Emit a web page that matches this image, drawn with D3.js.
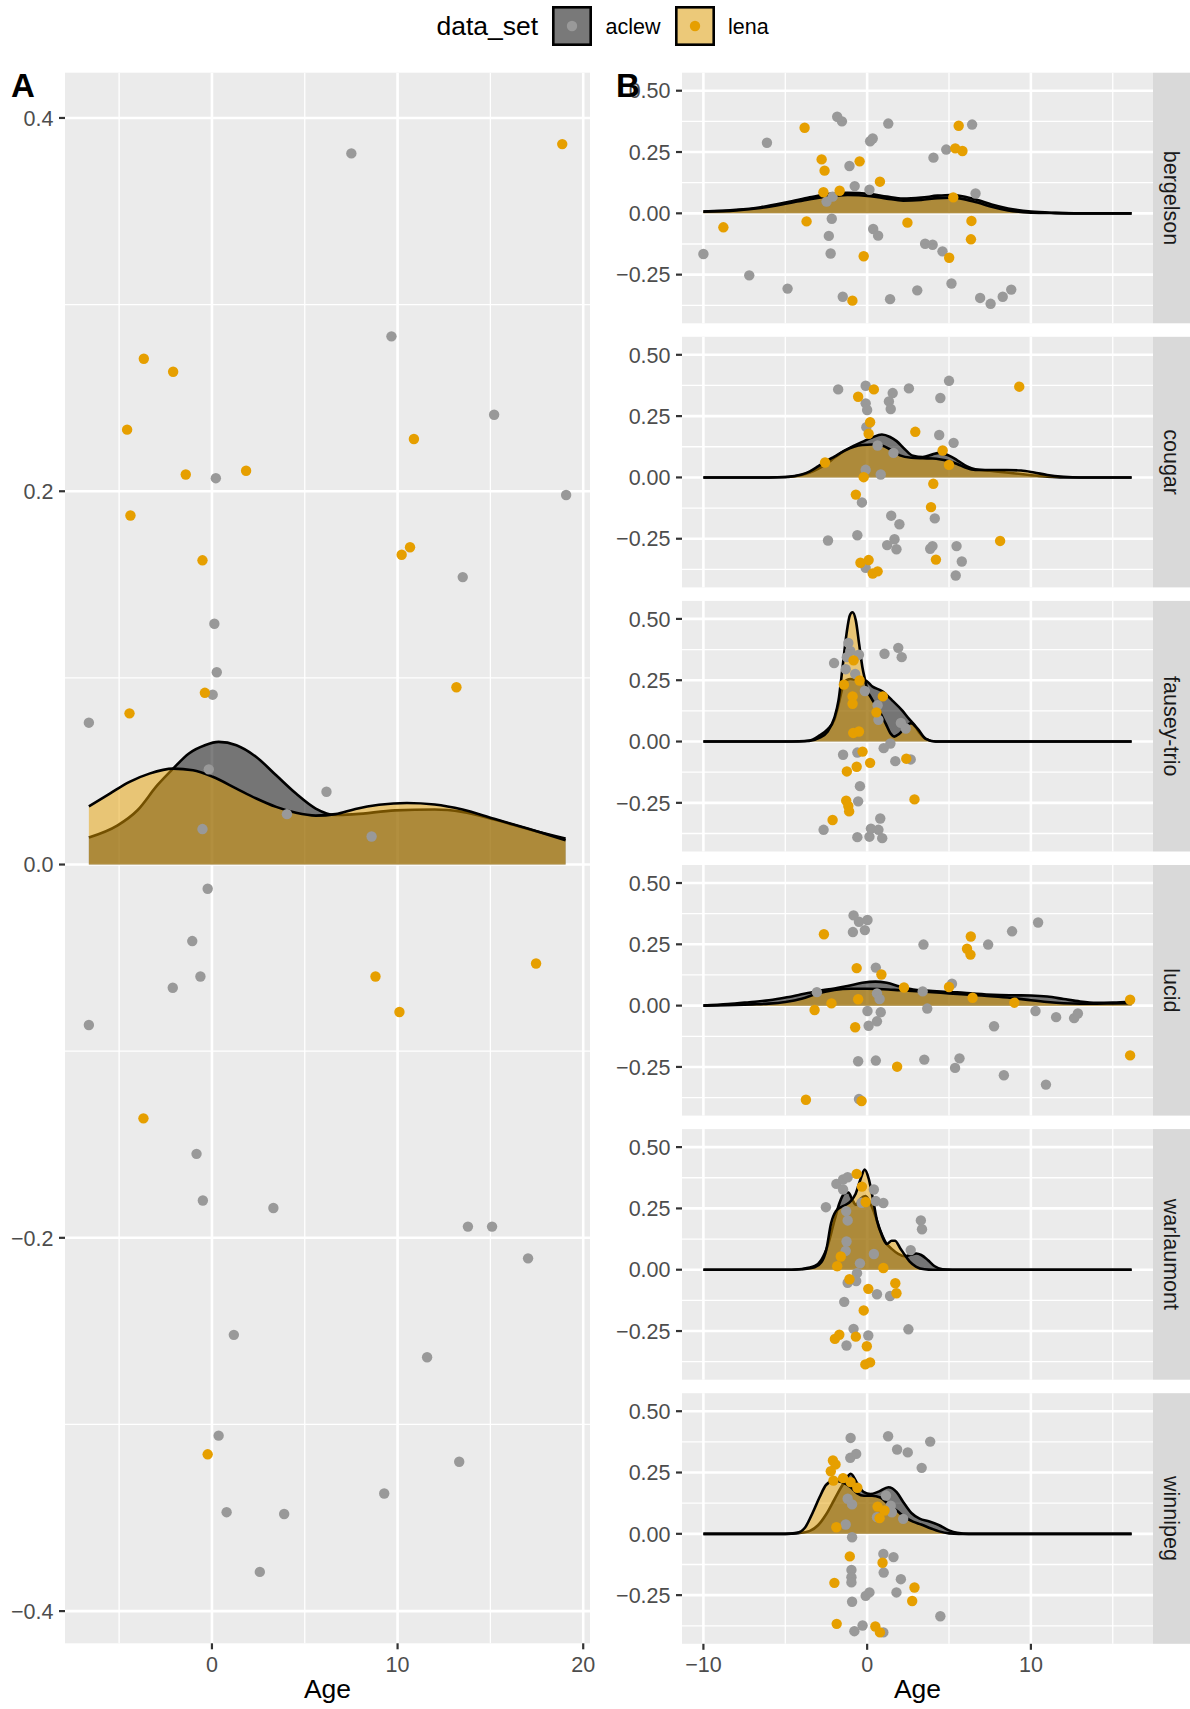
<!DOCTYPE html>
<html>
<head>
<meta charset="utf-8">
<script src="https://cdn.jsdelivr.net/npm/d3@7"></script>
<style>
  body { margin: 0; background: #fff; }
  text { font-family: "Liberation Sans", Arial, Helvetica, sans-serif; }
</style>
</head>
<body>
<svg width="1190" height="1709"></svg>
<script>
// ---- data (Age vs jittered y, plus density curves) ----
var dataSets = ["aclew", "lena"];
var corpora = ["bergelson", "cougar", "fausey-trio", "lucid", "warlaumont", "winnipeg"];

var ticksAX = [0, 10, 20], minorAX = [-5, 5, 15];
var ticksAY = [-0.4, -0.2, 0, 0.2, 0.4], minorAY = [-0.3, -0.1, 0.1, 0.3];
var ticksBX = [-10, 0, 10], minorBX = [-5, 5, 15];
var ticksBY = [-0.25, 0, 0.25, 0.5], minorBY = [-0.375, -0.125, 0.125, 0.375];

// panel A
var aclewPtsA = [[7.51,0.381],[9.67,0.283],[15.2,0.241],[0.21,0.207],[19.08,0.198],[13.51,0.154],[0.13,0.129],[0.26,0.103],[0.04,0.091],[-6.63,0.076],[-0.17,0.051],[6.17,0.039],[4.04,0.027],[-0.51,0.019],[8.6,0.015],[-0.23,-0.013],[-1.06,-0.041],[-0.62,-0.06],[-2.11,-0.066],[-6.63,-0.086],[-0.83,-0.155],[-0.49,-0.18],[3.31,-0.184],[13.79,-0.194],[15.09,-0.194],[17.03,-0.211],[1.18,-0.252],[11.59,-0.264],[0.36,-0.306],[13.32,-0.32],[9.28,-0.337],[0.79,-0.347],[3.89,-0.348],[2.58,-0.379]];
var lenaPtsA = [[18.87,0.386],[-3.67,0.271],[-2.09,0.264],[-4.57,0.233],[10.88,0.228],[-1.41,0.209],[1.84,0.211],[-4.39,0.187],[-0.51,0.163],[10.67,0.17],[10.22,0.166],[-0.38,0.092],[13.17,0.095],[-4.44,0.081],[8.81,-0.06],[10.1,-0.079],[17.46,-0.053],[-3.69,-0.136],[-0.23,-0.316]];
var aclewDensA = [[-6.63,0.0145],[-5.08,0.021],[-4.01,0.0291],[-2.94,0.0425],[-2.09,0.0514],[-1.24,0.0595],[-0.38,0.0639],[0.36,0.0657],[1.32,0.0639],[2.39,0.0576],[3.46,0.0478],[4.53,0.038],[5.59,0.030],[6.66,0.0265],[7.73,0.027],[9.86,0.029],[11.99,0.0295],[13.49,0.0282],[15.2,0.0241],[17.11,0.0188],[19.05,0.0139]];
var lenaDensA = [[-6.63,0.0312],[-5.5,0.038],[-4.44,0.0443],[-3.37,0.0487],[-2.09,0.0514],[-1.02,0.0505],[0.04,0.047],[1.32,0.0407],[2.39,0.0354],[3.46,0.0309],[4.53,0.0277],[5.59,0.0262],[6.66,0.027],[7.73,0.0298],[9.0,0.032],[10.5,0.033],[12.0,0.0322],[13.5,0.0295],[15.2,0.0245],[17.1,0.019],[19.05,0.013]];

// panel B, one pair of arrays per corpus
var bergelsonAclewPts = [[-10.0,-0.166],[-7.2,-0.253],[-6.12,0.288],[-4.86,-0.307],[-2.48,0.048],[-2.11,0.068],[-2.16,-0.022],[-2.34,-0.092],[-2.23,-0.164],[-1.83,0.394],[-1.54,0.375],[-1.49,-0.34],[-1.08,0.193],[-0.76,0.111],[0.14,0.096],[0.18,0.294],[0.34,0.305],[0.37,-0.064],[0.67,-0.091],[1.29,0.366],[1.4,-0.35],[3.06,-0.314],[3.54,-0.124],[4.0,-0.128],[4.05,0.227],[4.6,-0.155],[4.83,0.26],[5.15,-0.286],[6.41,0.362],[6.62,0.081],[6.9,-0.345],[7.54,-0.369],[8.28,-0.34],[8.8,-0.311]];
var bergelsonLenaPts = [[-8.78,-0.057],[-3.82,0.349],[-3.7,-0.033],[-2.78,0.22],[-2.6,0.174],[-2.67,0.086],[-1.68,0.092],[-0.46,0.212],[-0.21,-0.175],[-0.9,-0.356],[0.78,0.129],[2.46,-0.038],[5.01,-0.181],[5.26,0.065],[5.59,0.357],[5.38,0.265],[5.82,0.254],[6.37,-0.031],[6.34,-0.106]];
var bergelsonAclewDens = [[-10,0.007],[-8,0.014],[-6.5,0.025],[-4.9,0.045],[-3.5,0.065],[-2.5,0.078],[-1.2,0.084],[0.2,0.079],[1.2,0.068],[2.2,0.06],[3.3,0.064],[4.3,0.072],[5.1,0.075],[5.9,0.069],[6.8,0.053],[7.6,0.036],[8.6,0.02],[10,0.007],[11.5,0.002],[13,0],[16.15,0]];
var bergelsonLenaDens = [[-10,0.007],[-8,0.012],[-6.5,0.022],[-4.9,0.04],[-3.5,0.058],[-2.5,0.068],[-1.2,0.075],[0.2,0.07],[1.2,0.06],[2.2,0.052],[3.3,0.055],[4.3,0.062],[5.1,0.064],[5.9,0.058],[6.8,0.043],[7.6,0.027],[8.6,0.012],[10,0.003],[11.5,0.001],[13,0],[16.15,0]];

var cougarAclewPts = [[-1.77,0.359],[-0.09,0.374],[-0.09,0.302],[0,0.275],[-0.05,0.205],[-0.09,0.031],[0.64,0.13],[0.83,0.012],[1.56,0.344],[1.33,0.31],[1.44,0.279],[1.61,0.1],[2.55,0.363],[4.47,0.324],[4.4,0.173],[5.0,0.394],[5.28,0.141],[-0.32,-0.102],[-2.39,-0.257],[-0.6,-0.236],[1.47,-0.156],[1.97,-0.191],[1.67,-0.252],[1.22,-0.276],[1.79,-0.293],[4.13,-0.167],[3.85,-0.291],[3.99,-0.28],[5.46,-0.28],[5.78,-0.343],[5.41,-0.4],[-0.09,-0.369]];
var cougarLenaPts = [[-2.57,0.061],[-0.55,0.329],[0.41,0.359],[0.18,0.225],[0.09,0.178],[2.94,0.186],[-0.21,0.001],[4.61,0.11],[5.0,0.051],[9.29,0.37],[-0.69,-0.07],[4.04,-0.026],[3.9,-0.121],[8.12,-0.259],[4.2,-0.335],[-0.41,-0.348],[0.09,-0.337],[0.34,-0.392],[0.64,-0.383]];
var cougarAclewDens = [[-10,0],[-6,0],[-4.8,0.002],[-4,0.01],[-3.5,0.02],[-3,0.035],[-2.5,0.055],[-2,0.08],[-1.4,0.108],[-0.8,0.13],[-0.3,0.145],[0.3,0.163],[0.9,0.175],[1.4,0.165],[1.8,0.148],[2.3,0.115],[2.8,0.088],[3.4,0.083],[4.0,0.094],[4.4,0.1],[5.0,0.089],[5.5,0.07],[6.1,0.045],[6.6,0.033],[7.5,0.027],[8.5,0.02],[9.4,0.014],[10.2,0.008],[11,0.003],[12,0],[16.15,0]];
var cougarLenaDens = [[-10,0],[-6,0],[-5,0.002],[-4,0.012],[-3.5,0.025],[-3,0.045],[-2.5,0.066],[-2,0.085],[-1.4,0.108],[-0.8,0.125],[-0.3,0.132],[0.3,0.134],[0.9,0.13],[1.5,0.11],[2.0,0.09],[2.7,0.08],[3.4,0.078],[4.0,0.077],[4.5,0.073],[5.0,0.066],[5.5,0.055],[6.0,0.04],[6.6,0.03],[7.5,0.03],[8.5,0.03],[9.4,0.028],[10.2,0.02],[11,0.01],[12,0.003],[13,0],[16.15,0]];

var fauseyAclewPts = [[-1.15,0.402],[-1.03,0.369],[-1.24,0.344],[-0.5,0.354],[-2.02,0.32],[-1.31,0.295],[-0.73,0.276],[-0.14,0.206],[1.06,0.358],[1.9,0.382],[2.11,0.344],[0.64,0.148],[0.69,0.089],[2.06,0.076],[2.36,0.053],[1.42,-0.008],[1.01,-0.027],[-1.47,-0.054],[-0.6,-0.045],[1.72,-0.08],[2.66,-0.073],[-0.44,-0.182],[-0.55,-0.244],[0.8,-0.314],[-2.66,-0.36],[-0.6,-0.39],[0.14,-0.388],[0.23,-0.355],[0.69,-0.36],[0.92,-0.394]];
var fauseyLenaPts = [[-0.83,0.331],[-1.42,0.232],[-0.46,0.249],[-0.89,0.184],[-0.89,0.154],[0.96,0.184],[0.57,0.119],[-0.85,0.035],[-0.5,0.041],[-0.28,-0.041],[0.18,-0.087],[-1.24,-0.122],[-0.64,-0.103],[2.39,-0.07],[2.89,-0.236],[-1.28,-0.241],[-1.15,-0.263],[-1.1,-0.285],[-2.11,-0.32]];
var fauseyAclewDens = [[-10,0],[-5,0],[-4.2,0.001],[-3.54,0.004],[-2.93,0.024],[-2.42,0.05],[-2.0,0.09],[-1.75,0.15],[-1.5,0.22],[-1.26,0.25],[-1.0,0.255],[-0.6,0.25],[-0.12,0.249],[0.33,0.224],[0.93,0.205],[1.54,0.167],[2.15,0.126],[2.56,0.092],[2.87,0.069],[3.17,0.038],[3.58,0.011],[4.19,0],[16.15,0]];
var fauseyLenaDens = [[-10,0],[-5,0],[-4.2,0],[-3.54,0.002],[-2.93,0.015],[-2.42,0.04],[-2.01,0.095],[-1.75,0.167],[-1.5,0.303],[-1.26,0.439],[-1.06,0.514],[-0.9,0.527],[-0.69,0.493],[-0.49,0.398],[-0.29,0.303],[-0.12,0.249],[0.02,0.208],[0.22,0.181],[0.73,0.126],[1.14,0.072],[1.45,0.031],[1.65,0.02],[1.95,0.031],[2.36,0.058],[2.67,0.075],[3.08,0.052],[3.58,0.011],[4.19,0],[16.15,0]];

var lucidAclewPts = [[-0.83,0.368],[-0.5,0.342],[0.02,0.349],[-0.87,0.3],[-0.14,0.308],[-3.07,0.055],[0.53,0.155],[0.6,0.05],[0.76,0.027],[0.83,-0.027],[0.02,-0.022],[0.6,-0.064],[0.09,-0.082],[3.44,0.249],[3.39,0.058],[3.67,-0.012],[5.18,0.089],[7.39,0.249],[8.85,0.303],[10.44,0.339],[7.75,-0.084],[10.28,-0.022],[11.54,-0.047],[12.64,-0.051],[12.87,-0.032],[-0.55,-0.227],[0.53,-0.224],[3.49,-0.22],[5.64,-0.215],[5.37,-0.254],[8.35,-0.284],[10.92,-0.322],[-0.5,-0.381]];
var lucidLenaPts = [[-2.64,0.291],[-0.64,0.153],[0.87,0.127],[2.25,0.074],[5.0,0.076],[6.33,0.282],[6.1,0.232],[6.31,0.208],[6.44,0.032],[8.99,0.012],[16.06,0.024],[16.06,-0.203],[-3.21,-0.018],[-2.18,0.009],[-0.55,0.026],[-0.73,-0.088],[1.83,-0.249],[-3.74,-0.384],[-0.34,-0.389]];
var lucidAclewDens = [[-10,0],[-8.5,0.006],[-7.2,0.014],[-6,0.022],[-4.9,0.034],[-4,0.046],[-3,0.06],[-2,0.07],[-1.2,0.08],[-0.3,0.093],[0.5,0.098],[1.2,0.093],[2,0.078],[2.8,0.066],[3.6,0.061],[4.5,0.057],[5.5,0.054],[6.5,0.049],[7.7,0.044],[9,0.042],[10,0.041],[11,0.037],[12,0.027],[13,0.017],[14,0.012],[15,0.013],[16.15,0.016]];
var lucidLenaDens = [[-10,0],[-8.5,0.002],[-7,0.005],[-6,0.008],[-5,0.015],[-4,0.028],[-3,0.05],[-2,0.064],[-1,0.069],[0,0.069],[1,0.067],[2,0.063],[3,0.059],[4,0.055],[5,0.05],[6,0.046],[7,0.041],[8,0.036],[9,0.03],[10,0.022],[11,0.015],[12,0.01],[13,0.008],[14,0.008],[15,0.009],[16.15,0.01]];

var warlaumontAclewPts = [[-2.52,0.255],[-1.88,0.35],[-1.47,0.368],[-1.19,0.377],[-1.47,0.327],[-1.28,0.239],[-1.19,0.201],[-1.26,0.115],[-1.31,0.077],[-0.34,0.273],[0.41,0.327],[0.53,0.28],[0.99,0.272],[0.41,0.064],[-0.44,0.026],[-0.62,-0.014],[-0.67,-0.046],[-1.19,-0.053],[-1.4,-0.131],[0.6,-0.1],[1.4,-0.107],[3.28,0.201],[3.35,0.165],[2.66,0.08],[2.52,-0.243],[-0.83,-0.241],[0.07,-0.268],[-1.26,-0.309]];
var warlaumontLenaPts = [[-0.64,0.391],[-0.32,0.339],[-0.09,0.276],[-1.61,0.054],[-1.83,0.014],[-1.08,-0.039],[0.07,-0.078],[0.99,0.007],[1.72,-0.055],[1.79,-0.096],[-0.21,-0.166],[-1.97,-0.282],[-1.7,-0.265],[-0.69,-0.273],[-0.02,-0.312],[-0.11,-0.386],[0.18,-0.378]];
var warlaumontAclewDens = [[-10,0],[-4.6,0],[-4,0.003],[-3.2,0.015],[-2.8,0.04],[-2.4,0.1],[-2.0,0.2],[-1.7,0.27],[-1.4,0.31],[-1.15,0.315],[-0.9,0.285],[-0.7,0.265],[-0.4,0.29],[-0.1,0.3],[0.2,0.27],[0.5,0.22],[0.8,0.16],[1.1,0.115],[1.5,0.085],[1.9,0.065],[2.3,0.055],[2.7,0.062],[3.0,0.066],[3.3,0.06],[3.7,0.04],[4.1,0.015],[4.6,0.002],[5.2,0],[16.15,0]];
var warlaumontLenaDens = [[-10,0],[-4.6,0],[-4,0.002],[-3.2,0.01],[-2.8,0.03],[-2.5,0.08],[-2.2,0.19],[-1.9,0.24],[-1.6,0.255],[-1.3,0.265],[-1.0,0.28],[-0.7,0.31],[-0.4,0.37],[-0.15,0.408],[0.1,0.37],[0.35,0.29],[0.6,0.2],[0.9,0.14],[1.2,0.105],[1.5,0.118],[1.7,0.118],[2.0,0.09],[2.3,0.06],[2.6,0.033],[3.0,0.012],[3.5,0.002],[4.0,0],[16.15,0]];

var winnipegAclewPts = [[-1.01,0.391],[-1.03,0.31],[-0.67,0.326],[1.28,0.398],[1.83,0.344],[2.48,0.332],[3.85,0.376],[3.33,0.269],[-1.19,0.143],[-0.92,0.12],[-1.31,0.038],[1.15,0.156],[1.44,0.115],[1.51,0.088],[0.6,0.068],[2.2,0.061],[-0.92,-0.014],[0.99,-0.082],[1.61,-0.095],[1.01,-0.158],[2.06,-0.185],[-0.96,-0.147],[-0.96,-0.177],[-0.96,-0.198],[-0.92,-0.277],[-0.09,-0.253],[0.14,-0.239],[1.79,-0.239],[4.47,-0.336],[-0.78,-0.397],[-0.28,-0.374],[0.99,-0.402]];
var winnipegLenaPts = [[-2.09,0.299],[-1.93,0.283],[-2.22,0.255],[-2.06,0.217],[-1.47,0.227],[-1.01,0.211],[-0.6,0.188],[-1.88,0.027],[0.64,0.111],[1.06,0.095],[0.76,0.064],[-1.06,-0.092],[0.94,-0.118],[-2.0,-0.2],[2.89,-0.219],[2.75,-0.274],[-1.86,-0.367],[0.5,-0.378],[0.78,-0.402]];
var winnipegAclewDens = [[-10,0],[-5,0],[-4.2,0.003],[-3.5,0.012],[-3,0.035],[-2.5,0.08],[-2,0.14],[-1.5,0.2],[-1,0.245],[-0.6,0.205],[-0.2,0.17],[0.2,0.162],[0.7,0.172],[1.3,0.19],[1.8,0.17],[2.2,0.13],[2.7,0.085],[3.2,0.062],[3.8,0.05],[4.4,0.035],[5,0.014],[5.5,0.004],[6.2,0],[16.15,0]];
var winnipegLenaDens = [[-10,0],[-5,0],[-4.3,0.004],[-3.8,0.025],[-3.3,0.09],[-2.9,0.15],[-2.5,0.2],[-2,0.217],[-1.5,0.21],[-1,0.19],[-0.6,0.165],[-0.2,0.155],[0.3,0.155],[0.8,0.148],[1.3,0.12],[1.8,0.095],[2.3,0.068],[2.8,0.05],[3.3,0.038],[3.9,0.022],[4.4,0.01],[5,0.002],[5.6,0],[16.15,0]];

// lookup built from the arrays above
var facetData = {
  "bergelson":   { pts: [bergelsonAclewPts, bergelsonLenaPts],   dens: [bergelsonAclewDens, bergelsonLenaDens] },
  "cougar":      { pts: [cougarAclewPts, cougarLenaPts],         dens: [cougarAclewDens, cougarLenaDens] },
  "fausey-trio": { pts: [fauseyAclewPts, fauseyLenaPts],         dens: [fauseyAclewDens, fauseyLenaDens] },
  "lucid":       { pts: [lucidAclewPts, lucidLenaPts],           dens: [lucidAclewDens, lucidLenaDens] },
  "warlaumont":  { pts: [warlaumontAclewPts, warlaumontLenaPts], dens: [warlaumontAclewDens, warlaumontLenaDens] },
  "winnipeg":    { pts: [winnipegAclewPts, winnipegLenaPts],     dens: [winnipegAclewDens, winnipegLenaDens] }
};

// ---- styling ----
var pointColor = { aclew: "#999999", lena: "#E69F00" };
var fillColor = { aclew: "#000000", lena: "#E69F00" };
var panelBg = "#EBEBEB", stripBg = "#D9D9D9";
var tickFont = 21.5, titleFont = 26.5, ptR = 5.2;

var svg = d3.select("svg");

// ggplot-like 5% expansion of the data range
function expand(ext) {
  var d = ext[1] - ext[0];
  return [ext[0] - 0.05 * d, ext[1] + 0.05 * d];
}
function allOf(list, i) {
  var out = [];
  list.forEach(function(a) { a.forEach(function(p) { out.push(p[i]); }); });
  return out;
}

function drawPanel(g, x, y, pts, dens, o) {
  var x0 = x.range()[0], x1 = x.range()[1];
  var yTop = y.range()[1], yBot = y.range()[0];

  g.append("rect")
    .attr("x", x0).attr("y", yTop)
    .attr("width", x1 - x0).attr("height", yBot - yTop)
    .attr("fill", panelBg);

  // grid
  g.selectAll(".gminy").data(o.yMinor).enter().append("line")
    .attr("x1", x0).attr("x2", x1)
    .attr("y1", function(d) { return y(d); }).attr("y2", function(d) { return y(d); })
    .attr("stroke", "#fff").attr("stroke-width", 1.3);
  g.selectAll(".gminx").data(o.xMinor).enter().append("line")
    .attr("y1", yTop).attr("y2", yBot)
    .attr("x1", function(d) { return x(d); }).attr("x2", function(d) { return x(d); })
    .attr("stroke", "#fff").attr("stroke-width", 1.3);
  g.selectAll(".gmajy").data(o.yTicks).enter().append("line")
    .attr("x1", x0).attr("x2", x1)
    .attr("y1", function(d) { return y(d); }).attr("y2", function(d) { return y(d); })
    .attr("stroke", "#fff").attr("stroke-width", 2.6);
  g.selectAll(".gmajx").data(o.xTicks).enter().append("line")
    .attr("y1", yTop).attr("y2", yBot)
    .attr("x1", function(d) { return x(d); }).attr("x2", function(d) { return x(d); })
    .attr("stroke", "#fff").attr("stroke-width", 2.6);

  // densities: fill then upper outline, aclew first, lena on top
  var area = d3.area()
    .x(function(d) { return x(d[0]); })
    .y0(y(0))
    .y1(function(d) { return y(d[1]); })
    .curve(d3.curveMonotoneX);
  var line = d3.line()
    .x(function(d) { return x(d[0]); })
    .y(function(d) { return y(d[1]); })
    .curve(d3.curveMonotoneX);

  dataSets.forEach(function(ds, i) {
    g.append("path").datum(dens[i])
      .attr("d", area)
      .attr("fill", fillColor[ds]).attr("fill-opacity", 0.5);
    g.append("path").datum(dens[i])
      .attr("d", line)
      .attr("fill", "none").attr("stroke", "#000").attr("stroke-width", 2.6);
  });

  // jittered points
  dataSets.forEach(function(ds, i) {
    g.selectAll(".pt-" + ds).data(pts[i]).enter().append("circle")
      .attr("cx", function(d) { return x(d[0]); })
      .attr("cy", function(d) { return y(d[1]); })
      .attr("r", ptR)
      .attr("fill", pointColor[ds]);
  });

  // y axis
  g.selectAll(".yt").data(o.yTicks).enter().append("line")
    .attr("x1", x0 - 6).attr("x2", x0)
    .attr("y1", function(d) { return y(d); }).attr("y2", function(d) { return y(d); })
    .attr("stroke", "#333").attr("stroke-width", 2.2);
  g.selectAll(".yl").data(o.yTicks).enter().append("text")
    .attr("x", x0 - 11.5)
    .attr("y", function(d) { return y(d); })
    .attr("dy", "0.36em")
    .attr("text-anchor", "end")
    .attr("font-size", tickFont)
    .attr("fill", "#4D4D4D")
    .text(o.yFmt);

  if (o.xAxis) {
    g.selectAll(".xt").data(o.xTicks).enter().append("line")
      .attr("y1", yBot).attr("y2", yBot + 6)
      .attr("x1", function(d) { return x(d); }).attr("x2", function(d) { return x(d); })
      .attr("stroke", "#333").attr("stroke-width", 2.2);
    g.selectAll(".xl").data(o.xTicks).enter().append("text")
      .attr("x", function(d) { return x(d); })
      .attr("y", 1672)
      .attr("text-anchor", "middle")
      .attr("font-size", tickFont)
      .attr("fill", "#4D4D4D")
      .text(d3.format("d"));
    g.append("text")
      .attr("x", (x0 + x1) / 2).attr("y", 1698)
      .attr("text-anchor", "middle")
      .attr("font-size", titleFont)
      .attr("fill", "#000")
      .text("Age");
  }
}

// ---- panel A ----
var xA = d3.scaleLinear()
  .domain(expand(d3.extent(allOf([aclewPtsA, lenaPtsA, aclewDensA, lenaDensA], 0))))
  .range([65, 590]);
var yA = d3.scaleLinear()
  .domain(expand(d3.extent(allOf([aclewPtsA, lenaPtsA, aclewDensA, lenaDensA], 1))))
  .range([1643.3, 72.7]);

drawPanel(svg.append("g"), xA, yA, [aclewPtsA, lenaPtsA], [aclewDensA, lenaDensA], {
  xTicks: ticksAX, xMinor: minorAX, yTicks: ticksAY, yMinor: minorAY,
  yFmt: d3.format(".1f"), xAxis: true
});

// ---- panel B (facets by corpus) ----
var allBPts = [], allBDens = [];
corpora.forEach(function(c) {
  allBPts = allBPts.concat(facetData[c].pts);
  allBDens = allBDens.concat(facetData[c].dens);
});
var xB = d3.scaleLinear()
  .domain(expand(d3.extent(allOf(allBPts.concat(allBDens), 0))))
  .range([682, 1153]);
var yBDomain = expand(d3.extent(allOf(allBPts.concat(allBDens), 1)));

var facetTop = 72.7, facetH = 250.6, facetStep = 264.1;
corpora.forEach(function(c, i) {
  var top = facetTop + i * facetStep;
  var y = d3.scaleLinear().domain(yBDomain).range([top + facetH, top]);
  var g = svg.append("g");
  drawPanel(g, xB, y, facetData[c].pts, facetData[c].dens, {
    xTicks: ticksBX, xMinor: minorBX, yTicks: ticksBY, yMinor: minorBY,
    yFmt: d3.format(".2f"), xAxis: i === corpora.length - 1
  });
  // strip on the right
  g.append("rect")
    .attr("x", 1153).attr("y", top)
    .attr("width", 40).attr("height", facetH)
    .attr("fill", stripBg);
  g.append("text")
    .attr("transform", "translate(1172," + (top + facetH / 2) + ") rotate(90)")
    .attr("text-anchor", "middle")
    .attr("dy", "0.36em")
    .attr("font-size", tickFont)
    .attr("fill", "#1A1A1A")
    .text(c);
});

// ---- panel labels ----
svg.append("text").attr("x", 11).attr("y", 96.5)
  .attr("font-size", 33).attr("font-weight", "bold").text("A");
svg.append("text").attr("x", 616).attr("y", 96.5)
  .attr("font-size", 33).attr("font-weight", "bold").text("B");

// ---- legend ----
var legend = svg.append("g");
legend.append("text").attr("x", 436.5).attr("y", 35)
  .attr("font-size", titleFont).text("data_set");
var keyX = [552, 675], labelX = [605.5, 728];
dataSets.forEach(function(ds, i) {
  legend.append("rect")
    .attr("x", keyX[i] + 1.3).attr("y", 7.3)
    .attr("width", 37.4).attr("height", 37.4)
    .attr("fill", "#F2F2F2");
  legend.append("rect")
    .attr("x", keyX[i] + 1.3).attr("y", 7.3)
    .attr("width", 37.4).attr("height", 37.4)
    .attr("fill", fillColor[ds]).attr("fill-opacity", 0.5)
    .attr("stroke", "#000").attr("stroke-width", 2.6);
  legend.append("circle")
    .attr("cx", keyX[i] + 20).attr("cy", 26).attr("r", ptR)
    .attr("fill", pointColor[ds]);
  legend.append("text").attr("x", labelX[i]).attr("y", 34)
    .attr("font-size", tickFont).text(ds);
});
</script>
</body>
</html>
